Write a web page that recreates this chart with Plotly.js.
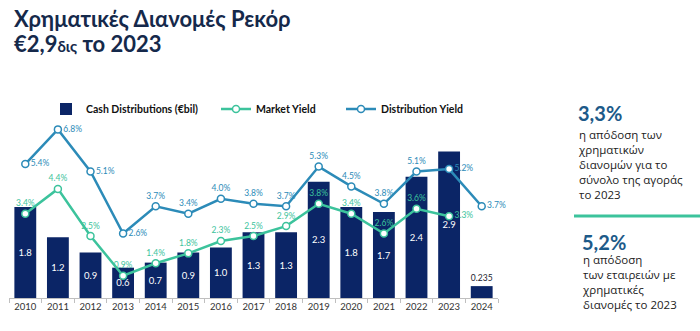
<!DOCTYPE html>
<html><head><meta charset="utf-8">
<script src="https://cdn.plot.ly/plotly-3.0.1.min.js"></script>
<style>html,body{margin:0;padding:0;background:#fff}#c{width:700px;height:331px}</style>
</head><body><div id="c"></div>
<script>
const years = ['2010','2011','2012','2013','2014','2015','2016','2017','2018','2019','2020','2021','2022','2023','2024'];
const cashDist = [1.8,1.2,0.9,0.6,0.7,0.9,1.0,1.3,1.3,2.3,1.8,1.7,2.4,2.9,0.235];
const cashLabels = ['1.8','1.2','0.9','0.6','0.7','0.9','1.0','1.3','1.3','2.3','1.8','1.7','2.4','2.9','0.235'];
const marketYield = [3.4,4.4,2.5,0.9,1.4,1.8,2.3,2.5,2.9,3.8,3.4,2.6,3.6,3.3,null];
const distYield = [5.4,6.8,5.1,2.6,3.7,3.4,4.0,3.8,3.7,5.3,4.5,3.8,5.1,5.2,3.7];
const marketPos = ['top center','top center','top center','top center','top center','top center','top center','top center','top center','top center','top center','top center','top center','middle right','top center'];
const distPos = ['middle right','middle right','middle right','middle right','top center','top center','top center','top center','top center','top center','top center','top center','top center','middle right','middle right'];

const NAVY = '#0b2566', GREEN = '#3cc39c', BLUE = '#2c8bb8';
const FONT = 'Lato, "Open Sans", sans-serif';
const SIDE_FONT = '"Open Sans", Lato, sans-serif';
const pct = a => a.map(v => v == null ? '' : v.toFixed(1) + '%');

const traces = [
  {type:'bar', x:years, y:cashDist, name:'Cash Distributions (€bil)', marker:{color:NAVY},
   text:cashLabels, texttemplate:'%{text}', textposition:cashDist.map((v,i)=> i===14?'outside':'inside'),
   insidetextanchor:'middle', insidetextfont:{color:'#fff', size:9.5, family:FONT},
   outsidetextfont:{color:'#1a1a2e', size:9.5, family:FONT}, cliponaxis:false,
   hoverinfo:'skip', legend:'legend'},
  {type:'scatter', mode:'lines+markers+text', x:years, y:marketYield, yaxis:'y2', name:'Market Yield',
   line:{color:GREEN, width:2.5}, marker:{symbol:'circle', size:7, color:'#fff', line:{color:GREEN, width:1.5}},
   text:pct(marketYield), textposition:marketPos, textfont:{color:GREEN, size:8.5, family:FONT},
   cliponaxis:false, hoverinfo:'skip', legend:'legend2'},
  {type:'scatter', mode:'lines+markers+text', x:years, y:distYield, yaxis:'y2', name:'Distribution Yield',
   line:{color:BLUE, width:2.5}, marker:{symbol:'circle', size:7, color:'#fff', line:{color:BLUE, width:1.5}},
   text:pct(distYield), textposition:distPos, textfont:{color:BLUE, size:8.5, family:FONT},
   cliponaxis:false, hoverinfo:'skip', legend:'legend3'}
];

const pxX = px => (px - 9) / 489;
const pxY = py => (298 - py) / 183;
const legFont = {family:FONT, size:10.5, color:'#111', weight:'bold'};
const legBase = {orientation:'h', yanchor:'middle', xanchor:'left', font:legFont, bgcolor:'rgba(0,0,0,0)', itemwidth:30};
const TITLE_C = '#15294b';

const layout = {
  width:700, height:331, margin:{l:9, r:202, t:115, b:33},
  paper_bgcolor:'#fff', plot_bgcolor:'#fff',
  font:{family:FONT},
  bargap:0.33,
  xaxis:{type:'category', range:[-0.5,14.5], showgrid:false, showline:true, linecolor:'#bfbfbf', linewidth:1,
         ticks:'outside', tickson:'boundaries', ticklen:4, tickcolor:'#bfbfbf',
         tickfont:{family:FONT, size:9.5, color:'#333'}, fixedrange:true},
  yaxis:{range:[0,3.62], visible:false, fixedrange:true},
  yaxis2:{range:[0,7.38], overlaying:'y', visible:false, fixedrange:true},
  showlegend:true,
  legend:Object.assign({}, legBase, {x:pxX(46), y:pxY(109)}),
  legend2:Object.assign({}, legBase, {x:pxX(216), y:pxY(109)}),
  legend3:Object.assign({}, legBase, {x:pxX(341), y:pxY(109)}),
  shapes:[{type:'line', xref:'paper', yref:'paper', x0:pxX(574), x1:pxX(700), y0:pxY(216), y1:pxY(216),
           line:{color:GREEN, width:3}}],
  annotations:[
    {xref:'paper', yref:'paper', x:pxX(12), y:pxY(18), xanchor:'left', yanchor:'middle', showarrow:false,
     text:'<b>Χρηματικές Διανομές Ρεκόρ</b>', font:{family:FONT, size:22, color:TITLE_C}},
    {xref:'paper', yref:'paper', x:pxX(12), y:pxY(43), xanchor:'left', yanchor:'middle', showarrow:false,
     text:'<b>€2,9<span style="font-size:15px">δις</span> το 2023</b>', font:{family:FONT, size:22, color:TITLE_C}},
    {xref:'paper', yref:'paper', x:pxX(576), y:pxY(113), xanchor:'left', yanchor:'middle', showarrow:false,
     text:'<b>3,3%</b>', font:{family:FONT, size:20, color:'#1d5a89'}},
    {xref:'paper', yref:'paper', x:pxX(576), y:pxY(125), xanchor:'left', yanchor:'top', showarrow:false, align:'left',
     text:'η απόδοση των<br>χρηματικών<br>διανομών για το<br>σύνολο της αγοράς<br>το 2023', font:{family:SIDE_FONT, size:11.5, color:'#222'}},
    {xref:'paper', yref:'paper', x:pxX(580), y:pxY(242), xanchor:'left', yanchor:'middle', showarrow:false,
     text:'<b>5,2%</b>', font:{family:FONT, size:20, color:'#1d5a89'}},
    {xref:'paper', yref:'paper', x:pxX(580), y:pxY(250), xanchor:'left', yanchor:'top', showarrow:false, align:'left',
     text:'η απόδοση<br>των εταιρειών με<br>χρηματικές<br>διανομές το 2023', font:{family:SIDE_FONT, size:11.5, color:'#222'}}
  ]
};

Plotly.newPlot('c', traces, layout, {displayModeBar:false, staticPlot:true});
</script></body></html>
